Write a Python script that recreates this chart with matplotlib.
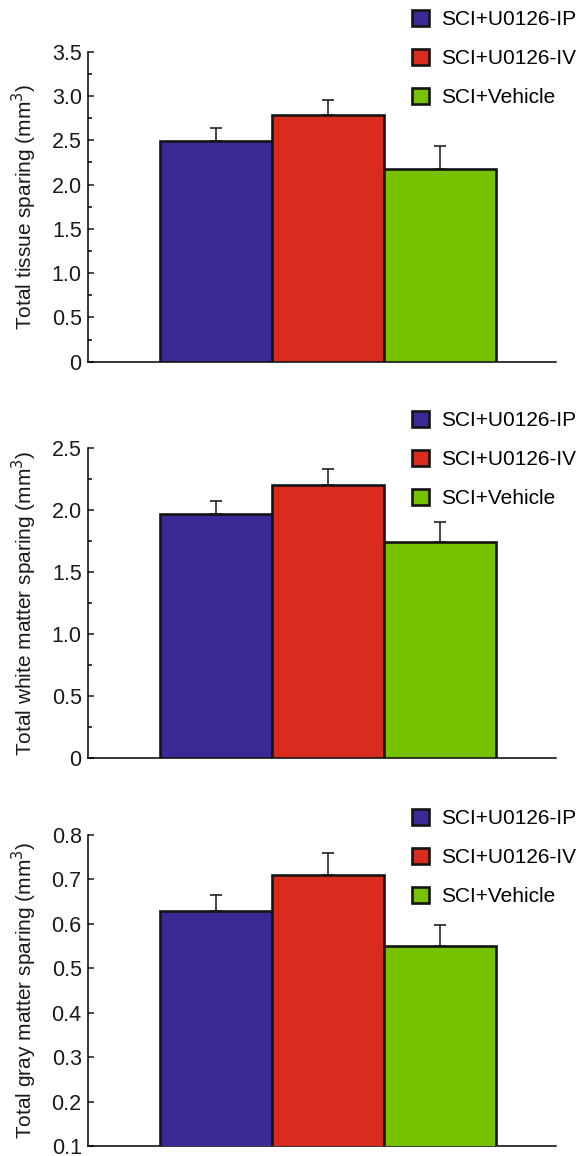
import matplotlib
matplotlib.use('Agg')
import matplotlib.pyplot as plt
from matplotlib.ticker import AutoMinorLocator

plt.rcParams['font.family'] = ['Liberation Sans', 'DejaVu Sans']

groups = ['SCI+U0126-IP', 'SCI+U0126-IV', 'SCI+Vehicle']
colors = ['#3A2A95', '#DA2C1E', '#77C200']

tissue_mean = [2.49, 2.78, 2.18]
tissue_err = [0.15, 0.17, 0.25]
white_mean = [1.97, 2.20, 1.74]
white_err = [0.10, 0.13, 0.16]
gray_mean = [0.63, 0.71, 0.55]
gray_err = [0.035, 0.05, 0.048]

tissue_ticks = [0, 0.5, 1.0, 1.5, 2.0, 2.5, 3.0, 3.5]
tissue_labels = ['0', '0.5', '1.0', '1.5', '2.0', '2.5', '3.0', '3.5']
white_ticks = [0, 0.5, 1.0, 1.5, 2.0, 2.5]
white_labels = ['0', '0.5', '1.0', '1.5', '2.0', '2.5']
gray_ticks = [0.1, 0.2, 0.3, 0.4, 0.5, 0.6, 0.7, 0.8]
gray_labels = ['0.1', '0.2', '0.3', '0.4', '0.5', '0.6', '0.7', '0.8']

W, H = 582, 1156
fig = plt.figure(figsize=(W / 100, H / 100), dpi=100)

panels = [
    # means, errs, ticks, labels, ylabel, axes top/bottom px, minor, legend top px
    (tissue_mean, tissue_err, tissue_ticks, tissue_labels,
     'Total tissue sparing (mm$^3$)', 51.7, 361.7, True, 10),
    (white_mean, white_err, white_ticks, white_labels,
     'Total white matter sparing (mm$^3$)', 447.7, 758.3, True, 411),
    (gray_mean, gray_err, gray_ticks, gray_labels,
     'Total gray matter sparing (mm$^3$)', 835, 1146, False, 809),
]

for means, errs, ticks, labels, ylabel, top, bottom, minor, leg_top in panels:
    ax = fig.add_axes([88 / W, 1 - bottom / H, (556 - 88) / W, (bottom - top) / H])
    x = range(len(groups))
    bars = ax.bar(x, means, width=1.0, color=colors, edgecolor='#151515',
                  linewidth=1.9, zorder=3, label=groups)
    ax.errorbar(x, means, yerr=[[0] * len(errs), errs], fmt='none',
                ecolor='#222222', elinewidth=1.2, capsize=4.3, capthick=1.2,
                zorder=2)
    ax.set_xlim(-1.143, 3.036)
    ax.set_ylim(ticks[0], ticks[-1])
    ax.set_yticks(ticks)
    ax.set_yticklabels(labels)
    if minor:
        ax.yaxis.set_minor_locator(AutoMinorLocator(2))
    ax.set_xticks([])
    ax.spines['top'].set_visible(False)
    ax.spines['right'].set_visible(False)
    ax.spines['left'].set_linewidth(1.1)
    ax.spines['bottom'].set_linewidth(1.1)
    ax.tick_params(axis='y', which='major', direction='in', length=4.5,
                   width=1.1, pad=4.5, labelsize=15.5, colors='#1a1a1a')
    ax.tick_params(axis='y', which='minor', direction='in', length=3,
                   width=1.1)
    ax.set_ylabel(ylabel, fontsize=15, labelpad=9, color='#1a1a1a')
    ax.legend(handles=bars.patches, labels=groups, loc='upper left',
              bbox_to_anchor=(412 / W, 1 - leg_top / H),
              bbox_transform=fig.transFigure, frameon=False, fontsize=15,
              borderpad=0, borderaxespad=0, handlelength=0.8,
              handleheight=0.8, handletextpad=0.6, labelspacing=0.95)

fig.savefig('out.png', dpi=100)
